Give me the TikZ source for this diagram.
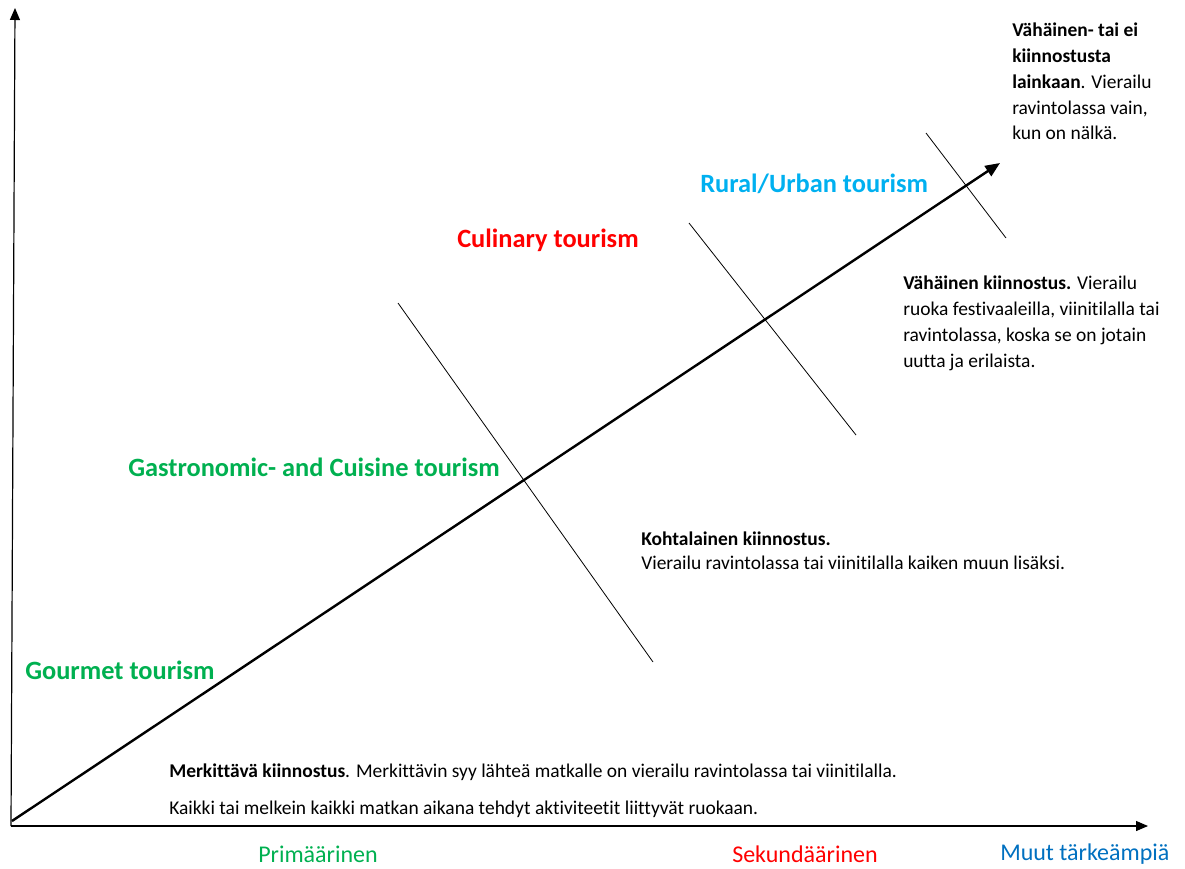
\documentclass[tikz,border=0pt]{standalone}
\usepackage{fontspec}
\setmainfont{Carlito}[Ligatures=NoCommon]
\usepackage{tikz}
\usetikzlibrary{arrows.meta, positioning}
\definecolor{gourmetgreen}{HTML}{00B050}
\definecolor{culinaryred}{HTML}{FF0000}
\definecolor{ruralblue}{HTML}{00B0F0}
\definecolor{otherblue}{HTML}{0070C0}

\begin{document}
\begin{tikzpicture}[x=0.75pt, y=-0.75pt,
		axisline/.style={line width=0.9pt, -{Triangle[length=9pt, width=7.5pt]}}, % Axes with filled tips
		interest/.style={line width=1.8pt, -{Triangle[length=11pt, width=9pt]}}, % Main diagonal
		divider/.style={line width=0.6pt}, % Lines crossing the diagonal
		tourism/.style={font=\bfseries\fontsize{19.8}{23}\selectfont, inner sep=0pt, anchor=west}, % Heading labels
		note/.style={font=\fontsize{14.6}{19.3}\selectfont, inner sep=0pt, align=left, anchor=north west}, % Description texts
		level/.style={font=\fontsize{18}{21}\selectfont, inner sep=0pt, anchor=west} % Labels under the x axis
		]
		\useasboundingbox (0,0) rectangle (1185,868);
		% Axes
		\coordinate (origin) at (11,826);
		\coordinate (ytop) at (15,8);
		\coordinate (xend) at (1148,826);
		\draw[axisline] (origin) -- (ytop);
		\draw[axisline] (origin) -- (xend);
		% Diagonal arrow
		\coordinate (start) at (12,821);
		\coordinate (tip) at (1000,163);
		\draw[interest] (start) -- (tip);
		% Dividers
		\coordinate (d1top) at (398,303);
		\coordinate (d1bot) at (653,662);
		\coordinate (d2top) at (689,223);
		\coordinate (d2bot) at (856,435);
		\coordinate (d3top) at (926,133);
		\coordinate (d3bot) at (1006,238);
		\draw[divider] (d1top) -- (d1bot);
		\draw[divider] (d2top) -- (d2bot);
		\draw[divider] (d3top) -- (d3bot);
		% Tourism labels
		\node[tourism, text=gourmetgreen] (gourmet) at (25,670) {Gourmet tourism};
		\node[tourism, text=gourmetgreen] (gastro) at (128,467) {Gastronomic- and Cuisine tourism};
		\node[tourism, text=culinaryred] (culinary) at (457,240) {Culinary tourism};
		\node[tourism, text=ruralblue] (rural) at (700,184) {Rural/Urban tourism};
		% Interest descriptions
		\node[note] (none) at (1012,23) {\textbf{Vähäinen- tai ei}\\\textbf{kiinnostusta}\\\textbf{lainkaan}. Vierailu\\ravintolassa vain,\\kun on nälkä.};
		\node[note] (low) at (903,276) {\textbf{Vähäinen kiinnostus.} Vierailu\\ruoka festivaaleilla, viinitilalla tai\\ravintolassa, koska se on jotain\\uutta ja erilaista.};
		\node[note, font=\fontsize{14.6}{18}\selectfont] (moderate) at (641,532) {\textbf{Kohtalainen kiinnostus.}\\Vierailu ravintolassa tai viinitilalla kaiken muun lisäksi.};
		\node[note] (high) at (169,764) {\textbf{Merkittävä kiinnostus}. Merkittävin syy lähteä matkalle on vierailu ravintolassa tai viinitilalla.};
		\node[note] (all) at (169,801) {Kaikki tai melkein kaikki matkan aikana tehdyt aktiviteetit liittyvät ruokaan.};
		% Levels under the x axis
		\node[level, text=gourmetgreen] (primary) at (258,854) {Primäärinen};
		\node[level, text=culinaryred] (secondary) at (732,854) {Sekundäärinen};
		\node[level, text=otherblue] (other) at (1000,854) {Muut tärkeämpiä};
	\end{tikzpicture}
\end{document}
